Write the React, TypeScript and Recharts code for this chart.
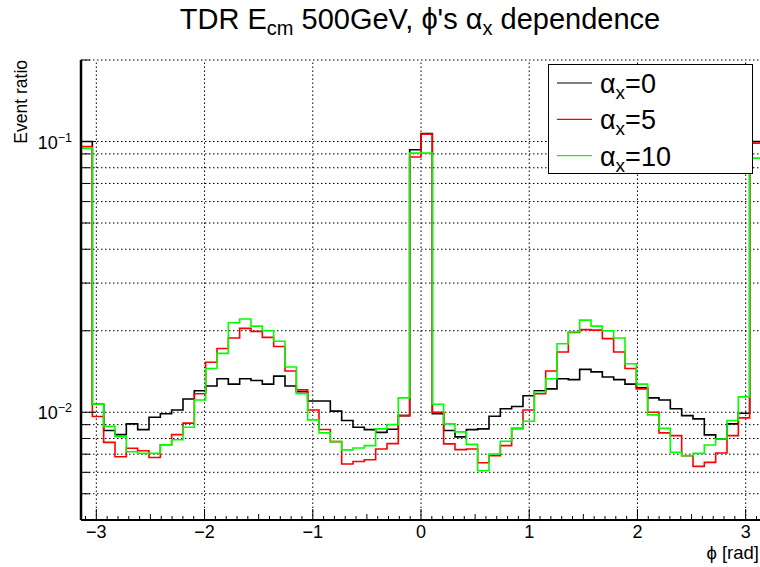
import React from 'react';
import { ComposedChart, Line, XAxis, YAxis, ReferenceLine } from 'recharts';

const FONT = "'Liberation Sans', Arial, Helvetica, sans-serif";

// 60 bins over [-pi, pi]
const NBINS = 60;
const phiEdges = Array.from({ length: NBINS + 1 }, (_, i) => -Math.PI + (2 * Math.PI * i) / NBINS);

// event ratio per bin
const alpha0 = [
  0.100, 0.0107, 0.00856, 0.00827, 0.00906, 0.00863, 0.00958, 0.00987, 0.0102, 0.0112,
  0.0120, 0.0125, 0.0133, 0.0127, 0.0133, 0.0131, 0.0127, 0.0136, 0.0125, 0.0119,
  0.0110, 0.0110, 0.0101, 0.00932, 0.00880, 0.00863, 0.00843, 0.00865, 0.00972, 0.0932,
  0.107, 0.00987, 0.00856, 0.00811, 0.00863, 0.00868, 0.00966, 0.0103, 0.0105, 0.0115,
  0.0120, 0.0122, 0.0133, 0.0132, 0.0144, 0.0141, 0.0135, 0.0132, 0.0127, 0.0123,
  0.0113, 0.0111, 0.0103, 0.00972, 0.00945, 0.00825, 0.00797, 0.00906, 0.00991, 0.100,
];
const alpha5 = [
  0.0958, 0.00964, 0.00774, 0.00685, 0.00736, 0.00721, 0.00681, 0.00759, 0.00827, 0.00912,
  0.0117, 0.0153, 0.0172, 0.0188, 0.0204, 0.0199, 0.0189, 0.0175, 0.0142, 0.0121,
  0.0102, 0.00864, 0.00779, 0.00644, 0.00658, 0.00668, 0.00732, 0.00766, 0.00972, 0.0876,
  0.1065, 0.0100, 0.00764, 0.00728, 0.00732, 0.00651, 0.00691, 0.00753, 0.00872, 0.0102,
  0.0117, 0.0142, 0.0167, 0.0197, 0.0202, 0.0201, 0.0187, 0.0167, 0.0145, 0.0122,
  0.0100, 0.00839, 0.00820, 0.00691, 0.00631, 0.00653, 0.00707, 0.00820, 0.00953, 0.0986,
];
const alpha10 = [
  0.0945, 0.0107, 0.00887, 0.00813, 0.00715, 0.00705, 0.00705, 0.00759, 0.00792, 0.00880,
  0.0111, 0.0145, 0.0165, 0.0214, 0.0221, 0.0208, 0.0200, 0.0183, 0.0147, 0.0117,
  0.00937, 0.00839, 0.00779, 0.00726, 0.00738, 0.00753, 0.00868, 0.00901, 0.0113, 0.0906,
  0.0906, 0.0107, 0.00906, 0.00846, 0.00761, 0.00608, 0.00701, 0.00781, 0.00868, 0.00926,
  0.0119, 0.0133, 0.0179, 0.0198, 0.0219, 0.0208, 0.0200, 0.0188, 0.0151, 0.0127,
  0.00978, 0.00872, 0.00711, 0.00691, 0.00705, 0.00757, 0.00797, 0.00932, 0.0114, 0.0868,
];

const seriesNames = ['0', '5', '10'];
const seriesKeys = ['a0', 'a5', 'a10'];
const seriesColors = ['#000000', '#ff0000', '#00ff00'];

const xLabels = [-3, -2, -1, 0, 1, 2, 3];
const xTicks = Array.from({ length: 63 }, (_, i) => (i - 31) / 10);
const yTicks = [
  0.004, 0.005, 0.006, 0.007, 0.008, 0.009, 0.01,
  0.02, 0.03, 0.04, 0.05, 0.06, 0.07, 0.08, 0.09, 0.1, 0.2,
];
const yMajor = [0.01, 0.1];

// stepAfter needs a closing point at the last edge
const data = phiEdges.map((phi, i) => {
  const k = Math.min(i, NBINS - 1);
  return { phi, a0: alpha0[k], a5: alpha5[k], a10: alpha10[k] };
});

const XTick = (props: any) => {
  const { x, y, payload } = props;
  const v = payload.value;
  const r = Math.round(v);
  const isInt = Math.abs(v - r) < 1e-6;
  const isHalf = Math.abs(v * 2 - Math.round(v * 2)) < 1e-6;
  const len = isInt ? 11 : isHalf ? 6 : 4;
  return (
    <g>
      <line x1={x} x2={x} y1={y} y2={y - len} stroke="#000" strokeWidth={1} />
      {isInt && xLabels.includes(r) && (
        <text x={x} y={y + 18} textAnchor="middle" fontSize={18} fontFamily={FONT} fill="#000">
          {r < 0 ? `\u2212${-r}` : `${r}`}
        </text>
      )}
    </g>
  );
};

const YTick = (props: any) => {
  const { x, y, payload } = props;
  const v = payload.value;
  const major = yMajor.some((m) => Math.abs(m - v) < 1e-9);
  const exp = Math.round(Math.log10(v));
  return (
    <g>
      <line x1={x} x2={x + (major ? 15 : 9)} y1={y} y2={y} stroke="#000" strokeWidth={1} />
      {major && (
        <text x={x - 9} y={y + 7} textAnchor="end" fontSize={18} fontFamily={FONT} fill="#000">
          10
          <tspan fontSize={12.5} dy={-7}>{`\u2212${-exp}`}</tspan>
        </text>
      )}
    </g>
  );
};

export default function App() {
  return (
    <div style={{ position: 'absolute', left: 0, top: 0, width: 760, height: 567, overflow: 'hidden', background: '#fff' }}>
      <ComposedChart
        width={770}
        height={567}
        data={data}
        margin={{ top: 60, right: 9, bottom: 17, left: 21 }}
      >
        <XAxis
          dataKey="phi"
          type="number"
          domain={[-Math.PI, Math.PI]}
          allowDataOverflow
          ticks={xTicks}
          interval={0}
          tick={<XTick />}
          tickSize={0}
          tickMargin={0}
          tickLine={false}
          axisLine={{ stroke: '#000', strokeWidth: 2 }}
          height={30}
        />
        <YAxis
          scale="log"
          domain={[0.004, 0.2]}
          allowDataOverflow
          ticks={yTicks}
          interval={0}
          tick={<YTick />}
          tickSize={0}
          tickMargin={0}
          tickLine={false}
          axisLine={{ stroke: '#000', strokeWidth: 2.5 }}
          width={60}
        />
        {xLabels.map((v) => (
          <ReferenceLine key={`gx${v}`} x={v} stroke="#000" strokeDasharray="1.5 2.5" strokeWidth={1} />
        ))}
        {yTicks.filter((v) => v > 0.004).map((v) => (
          <ReferenceLine key={`gy${v}`} y={v} stroke="#000" strokeDasharray="1.5 2.5" strokeWidth={1} />
        ))}
        {seriesKeys.map((k, i) => (
          <Line
            key={k}
            dataKey={k}
            type="stepAfter"
            stroke={seriesColors[i]}
            strokeWidth={1.6}
            dot={false}
            isAnimationActive={false}
          />
        ))}
      </ComposedChart>
      <svg
        width={760}
        height={567}
        style={{ position: 'absolute', left: 0, top: 0, pointerEvents: 'none' }}
        fontFamily={FONT}
      >
        <text x={420} y={29} textAnchor="middle" fontSize={29} fill="#000">
          TDR E<tspan fontSize={20} dy={6}>cm</tspan>
          <tspan dy={-6}> 500GeV, ϕ's α</tspan>
          <tspan fontSize={20} dy={6}>x</tspan>
          <tspan dy={-6}> dependence</tspan>
        </text>
        <text transform="translate(27,60) rotate(-90)" textAnchor="end" fontSize={17.5} fill="#000">
          Event ratio
        </text>
        <text x={759} y={559} textAnchor="end" fontSize={18.5} fill="#000">
          ϕ [rad]
        </text>
        <rect x={548.5} y={64.5} width={204} height={109} fill="#fff" stroke="#000" strokeWidth={1} />
        {seriesNames.map((n, i) => {
          const ly = 83 + i * 36.3;
          return (
            <g key={n}>
              <line x1={557} x2={592} y1={ly} y2={ly} stroke={seriesColors[i]} strokeWidth={1.2} />
              <text x={600} y={ly + 10} fontSize={27} fill="#000">
                α<tspan fontSize={19} dy={6}>x</tspan>
                <tspan dy={-6}>={n}</tspan>
              </text>
            </g>
          );
        })}
      </svg>
    </div>
  );
}
